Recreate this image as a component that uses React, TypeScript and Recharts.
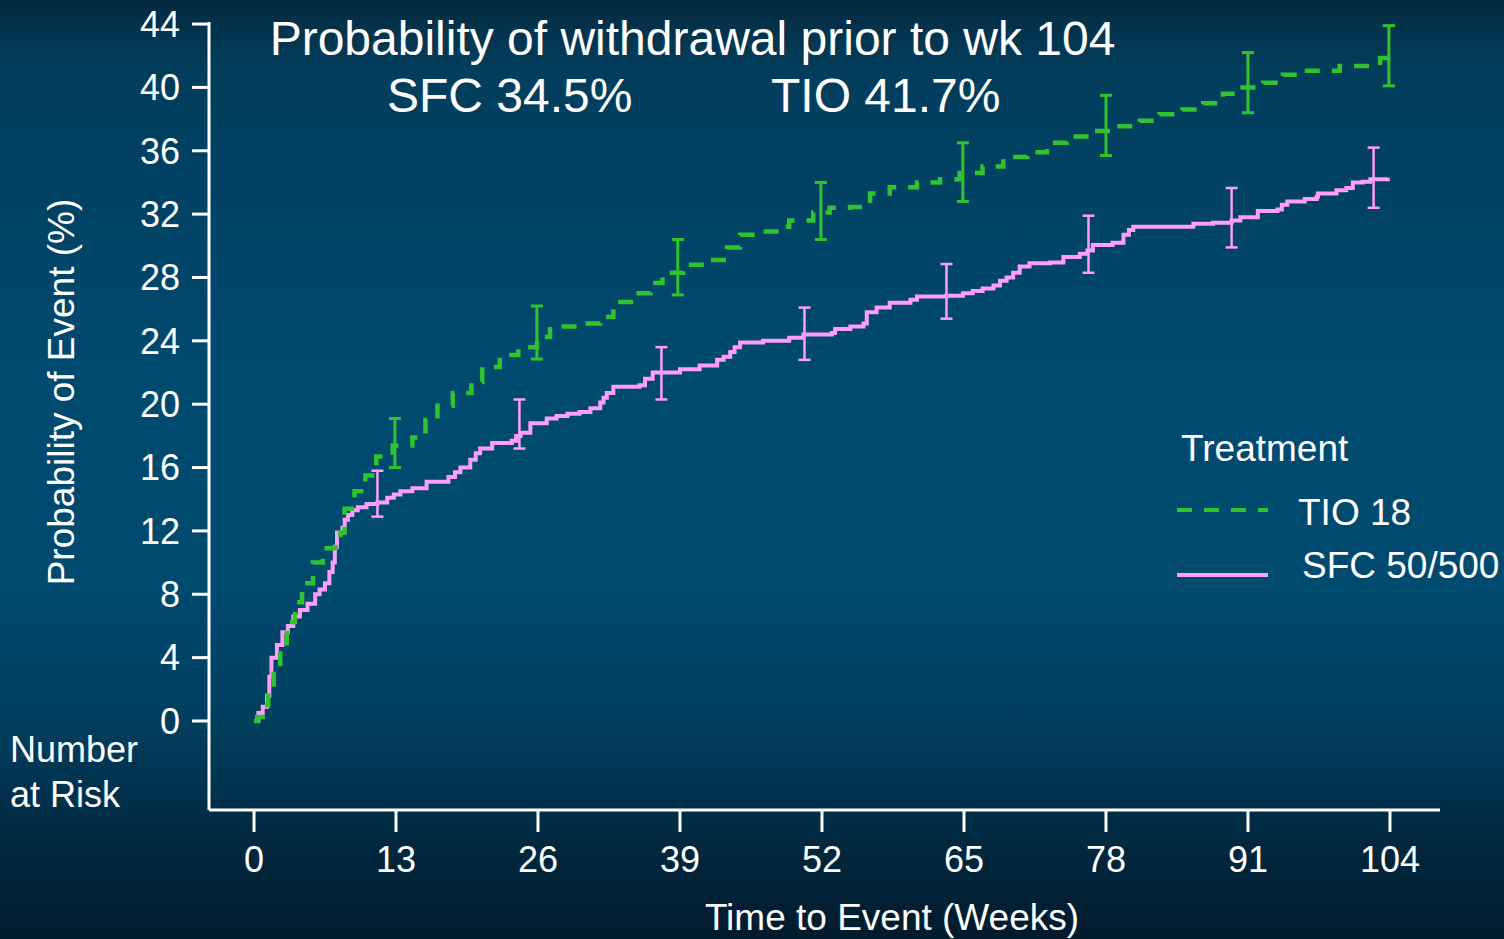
import React from 'react';
import { ComposedChart, Line, Scatter, ErrorBar, XAxis, YAxis, Legend } from 'recharts';

const FONT = '"Liberation Sans", Arial, sans-serif';

const weekTicks = [0, 13, 26, 39, 52, 65, 78, 91, 104];
const pctTicks = [0, 4, 8, 12, 16, 20, 24, 28, 32, 36, 40, 44];
const seriesNames = ['TIO 18', 'SFC 50/500'];

// SFC 50/500 KM curve (weeks, % with event)
const sfcWeeks = [
  0, 0.4, 0.8, 1.2, 1.4, 1.6, 2.1, 2.6, 3.1, 3.6, 4.2, 4.9, 5.6, 6.0, 6.5, 6.9, 7.2, 7.4, 7.6, 8.1,
  8.3, 8.6, 9.0, 9.5, 10.3, 11.3, 12.2, 12.8, 13.4, 14.5, 15.8, 17.8, 18.4, 18.9, 19.8, 20.3, 20.7, 21.8, 23.6, 24.0,
  24.4, 25.3, 26.8, 27.7, 28.7, 29.8, 30.8, 31.7, 32.0, 32.3, 32.9, 35.3, 35.8, 36.5, 39.0, 40.8, 42.4, 43.0, 43.6, 44.0,
  44.5, 46.6, 49.0, 50.3, 52.9, 53.2, 54.6, 55.8, 56.1, 57.0, 58.2, 60.1, 60.7, 63.4, 64.9, 65.8, 66.7, 67.7, 68.3, 68.9,
  69.5, 70.1, 71.0, 72.9, 74.1, 75.6, 76.3, 76.8, 78.6, 79.6, 80.1, 80.5, 86.0, 87.8, 89.5, 90.3, 91.9, 93.7, 94.1, 94.6,
  96.2, 97.3, 97.4, 99.1, 100.0, 100.6, 101.5, 102.2, 103.8,
];
const sfcPct = [
  0, 0.5, 0.9, 1.6, 2.8, 4.0, 4.8, 5.6, 6.0, 6.6, 7.0, 7.4, 8.0, 8.3, 8.7, 9.4, 10.0, 11.0, 11.9, 12.2,
  12.7, 13.0, 13.3, 13.5, 13.7, 13.8, 14.1, 14.3, 14.5, 14.7, 15.1, 15.4, 15.7, 16.0, 16.5, 16.9, 17.2, 17.55, 17.7, 18.0,
  18.2, 18.8, 19.1, 19.25, 19.4, 19.5, 19.75, 20.1, 20.4, 20.7, 21.1, 21.2, 21.6, 22.0, 22.2, 22.45, 22.8, 23.0, 23.3, 23.6,
  23.9, 24.0, 24.2, 24.4, 24.5, 24.75, 24.9, 25.1, 25.8, 26.1, 26.4, 26.6, 26.8, 26.85, 27.0, 27.15, 27.3, 27.5, 27.8, 28.0,
  28.3, 28.7, 28.9, 28.95, 29.3, 29.5, 29.7, 30.05, 30.2, 30.7, 31.0, 31.2, 31.4, 31.45, 31.6, 31.8, 32.2, 32.3, 32.6, 32.8,
  32.95, 33.1, 33.3, 33.5, 33.65, 34.0, 34.05, 34.2, 34.3,
];

// TIO 18 KM curve
const tioWeeks = [
  0, 0.3, 0.8, 1.3, 1.8, 2.4, 3.0, 3.75, 4.4, 5.4, 6.3, 7.5, 7.9, 8.3, 9.2, 10.2, 11.2, 12.7, 14.5, 15.7,
  16.8, 18.2, 19.9, 20.9, 22.5, 24.2, 25.9, 27.1, 29.6, 31.7, 32.9, 34.5, 36.3, 37.4, 39.3, 41.7, 43.3, 44.5, 46.6, 48.4,
  49.0, 51.2, 52.7, 54.6, 56.4, 58.2, 60.7, 62.8, 64.6, 66.7, 68.6, 70.8, 72.6, 74.4, 76.5, 78.6, 81.1, 82.9, 85.0, 86.9,
  88.7, 90.5, 92.4, 94.2, 96.4, 99.4, 103.1, 103.9,
];
const tioPct = [
  0, 0.25, 1.0, 2.1, 3.4, 4.9, 6.25, 7.5, 8.7, 10.0, 10.9, 11.2, 11.9, 13.4, 14.5, 15.5, 16.7, 17.4, 17.9, 19.0,
  19.9, 20.7, 21.4, 22.35, 23.1, 23.6, 24.25, 24.9, 25.1, 25.5, 26.45, 27.0, 27.65, 28.3, 28.8, 29.1, 29.9, 30.7, 30.9, 31.2,
  31.6, 32.1, 32.4, 32.45, 33.3, 33.7, 34.0, 34.2, 34.6, 35.0, 35.6, 35.9, 36.5, 36.9, 37.25, 37.55, 37.9, 38.3, 38.6, 39.0,
  39.6, 40.0, 40.3, 40.8, 41.05, 41.35, 41.85, 41.9,
];

// confidence interval bars
const sfcBarWeeks = [11.3, 24.3, 37.3, 50.4, 63.4, 76.4, 89.5, 102.5];
const sfcBarLow = [12.9, 17.2, 20.3, 22.8, 25.4, 28.3, 29.9, 32.4];
const sfcBarHigh = [15.8, 20.3, 23.6, 26.1, 28.85, 31.9, 33.65, 36.2];

const tioBarWeeks = [12.9, 25.9, 38.8, 51.9, 64.9, 78.0, 91.0, 103.9];
const tioBarLow = [16.0, 22.85, 26.9, 30.4, 32.8, 35.7, 38.4, 40.1];
const tioBarHigh = [19.1, 26.2, 30.4, 34.0, 36.5, 39.5, 42.2, 43.9];

const GREEN = '#2fc42f';
const PINK = '#ff9df8';

const sfcData = sfcWeeks.map((week, i) => ({ week, v: sfcPct[i] }));
const tioData = tioWeeks.map((week, i) => ({ week, v: tioPct[i] }));
const sfcBars = sfcBarWeeks.map((week, i) => ({ week, low: sfcBarLow[i], err: [0, sfcBarHigh[i] - sfcBarLow[i]] }));
const tioBars = tioBarWeeks.map((week, i) => ({ week, low: tioBarLow[i], err: [0, tioBarHigh[i] - tioBarLow[i]] }));

const tickStyle = { fill: '#fff', fontSize: 36, fontFamily: FONT };
const axisLine = { stroke: '#fff', strokeWidth: 3 };

const renderLegend = (props: any) => {
  const items = [...(props.payload || [])]
    .filter((p: any) => seriesNames.includes(p.value))
    .sort((a: any, b: any) => seriesNames.indexOf(a.value) - seriesNames.indexOf(b.value));
  const rows = [
    { lineTop: 85, textLeft: 123, textTop: 69 },
    { lineTop: 150, textLeft: 127, textTop: 122 },
  ];
  return (
    <div style={{ position: 'relative', width: 330, height: 180, color: '#fff', fontFamily: FONT }}>
      <div style={{ position: 'absolute', left: 6, top: 5, fontSize: 37, lineHeight: '37px', whiteSpace: 'nowrap' }}>
        Treatment
      </div>
      {items.map((item: any, i: number) => (
        <React.Fragment key={item.value}>
          <svg width={96} height={8} style={{ position: 'absolute', left: 0, top: rows[i].lineTop - 4 }}>
            <line
              x1={2}
              x2={93}
              y1={4}
              y2={4}
              stroke={item.color}
              strokeWidth={4}
              strokeDasharray={item.payload?.strokeDasharray}
            />
          </svg>
          <div
            style={{
              position: 'absolute',
              left: rows[i].textLeft,
              top: rows[i].textTop,
              fontSize: 37,
              lineHeight: '37px',
              whiteSpace: 'nowrap',
            }}
          >
            {item.value}
          </div>
        </React.Fragment>
      ))}
    </div>
  );
};

const text = (extra: React.CSSProperties): React.CSSProperties => ({
  position: 'absolute',
  color: '#fff',
  fontFamily: FONT,
  whiteSpace: 'nowrap',
  ...extra,
});

export default function App() {
  return (
    <div
      style={{
        position: 'absolute',
        left: 0,
        top: 0,
        width: 1504,
        height: 939,
        overflow: 'hidden',
        background:
          'linear-gradient(to bottom, #052a40 0%, #023d5b 7%, #004a70 40%, #004a70 62%, #013d5c 78%, #01283f 90%, #011b2c 100%)',
      }}
    >
      <ComposedChart width={1504} height={939} margin={{ top: 22, right: 64, left: 0, bottom: 69 }}>
        <XAxis
          dataKey="week"
          type="number"
          domain={[-4.12, 108.58]}
          allowDataOverflow
          ticks={weekTicks}
          height={60}
          tick={tickStyle}
          tickSize={22}
          tickMargin={14}
          axisLine={axisLine}
          tickLine={axisLine}
        />
        <YAxis
          type="number"
          domain={[-5.62, 44.13]}
          allowDataOverflow
          ticks={pctTicks}
          width={209}
          tick={tickStyle}
          tickSize={17}
          tickMargin={12}
          axisLine={axisLine}
          tickLine={axisLine}
        />
        <Legend
          layout="vertical"
          align="center"
          verticalAlign="middle"
          content={renderLegend}
          wrapperStyle={{ left: 1175, top: 425, width: 330, height: 180 }}
        />
        <Line
          name="SFC 50/500"
          data={sfcData}
          dataKey="v"
          type="stepAfter"
          stroke={PINK}
          strokeWidth={4}
          dot={false}
          activeDot={false}
          isAnimationActive={false}
        />
        <Line
          name="TIO 18"
          data={tioData}
          dataKey="v"
          type="stepAfter"
          stroke={GREEN}
          strokeWidth={4.5}
          strokeDasharray="15 12"
          dot={false}
          activeDot={false}
          isAnimationActive={false}
        />
        <Scatter
          name="sfc-ci"
          data={sfcBars}
          dataKey="low"
          legendType="none"
          shape={() => <g />}
          isAnimationActive={false}
        >
          <ErrorBar dataKey="err" direction="y" width={6} stroke={PINK} strokeWidth={2.5} isAnimationActive={false} />
        </Scatter>
        <Scatter
          name="tio-ci"
          data={tioBars}
          dataKey="low"
          legendType="none"
          shape={() => <g />}
          isAnimationActive={false}
        >
          <ErrorBar dataKey="err" direction="y" width={6} stroke={GREEN} strokeWidth={3} isAnimationActive={false} />
        </Scatter>
      </ComposedChart>

      <div style={text({ left: 0, width: 1385, top: 15, textAlign: 'center', fontSize: 48, lineHeight: '47px' })}>
        Probability of withdrawal prior to wk 104
      </div>
      <div style={text({ left: 387, top: 72, fontSize: 48, lineHeight: '47px' })}>SFC 34.5%</div>
      <div style={text({ left: 771, top: 72, fontSize: 48, lineHeight: '47px' })}>TIO 41.7%</div>

      <div
        style={text({
          left: 62 - 250,
          top: 392 - 18,
          width: 500,
          textAlign: 'center',
          fontSize: 37,
          lineHeight: '36px',
          transform: 'rotate(-90deg)',
        })}
      >
        Probability of Event (%)
      </div>
      <div style={text({ left: 392, width: 1000, top: 900, textAlign: 'center', fontSize: 37, lineHeight: '36px' })}>
        Time to Event (Weeks)
      </div>
      <div style={text({ left: 10, top: 727, fontSize: 36, lineHeight: '45px' })}>
        Number
        <br />
        at Risk
      </div>
    </div>
  );
}
